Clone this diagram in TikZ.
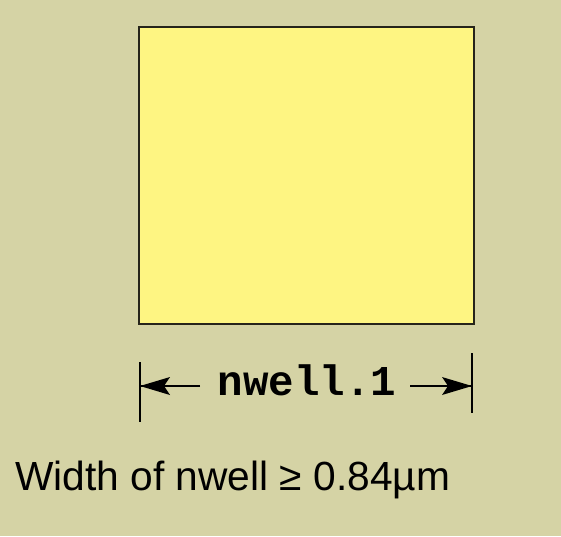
\documentclass[tikz,border=0pt]{standalone}
\usepackage{fontspec}
\setmainfont{Liberation Sans}
\newfontfamily\monofnt{Liberation Mono}
\definecolor{bgcol}{HTML}{D5D3A5}
\definecolor{wellfill}{HTML}{FEF582}
\definecolor{wellline}{HTML}{26241A}
\tikzset{
  dimtick/.style={draw=black, line width=1.4pt},
  dimline/.style={draw=black, line width=1.4pt},
  dimhead/.style={fill=black},
}
\begin{document}
\begin{tikzpicture}[x=1pt,y=1pt]
\fill[bgcol] (0,0) rectangle (561,536);
\useasboundingbox (0,0) rectangle (561,536);
\node[draw=wellline, fill=wellfill, line width=1.6pt, minimum width=335pt, minimum height=297pt, inner sep=0pt, anchor=south west] (well) at (138,211) {};
\coordinate (lt) at (140,174);
\coordinate (lb) at (140,114);
\coordinate (rt) at (472,183);
\coordinate (rb) at (472,123);
\coordinate (la) at (140,150);
\coordinate (ra) at (472,150);
\draw[dimtick] (lt) -- (lb);
\draw[dimtick] (rt) -- (rb);
\node[font=\monofnt\bfseries\fontsize{42.5}{42.5}\selectfont, anchor=base, inner sep=0pt] (lbl) at (307,141) {nwell.1};
\coordinate (las) at (200,150);
\coordinate (ras) at (410,150);
\draw[dimline] (las) -- (la);
\draw[dimline] (ras) -- (ra);
\fill[dimhead] (la) -- ++(30,9) -- ++(-6,-9) -- ++(6,-9) -- cycle;
\fill[dimhead] (ra) -- ++(-30,9) -- ++(6,-9) -- ++(-6,-9) -- cycle;
\node[font=\fontsize{40.7}{40.7}\selectfont, anchor=base west, inner sep=0pt] (rule) at (15,46) {Width of nwell ≥ 0.84µm};
\end{tikzpicture}
\end{document}
